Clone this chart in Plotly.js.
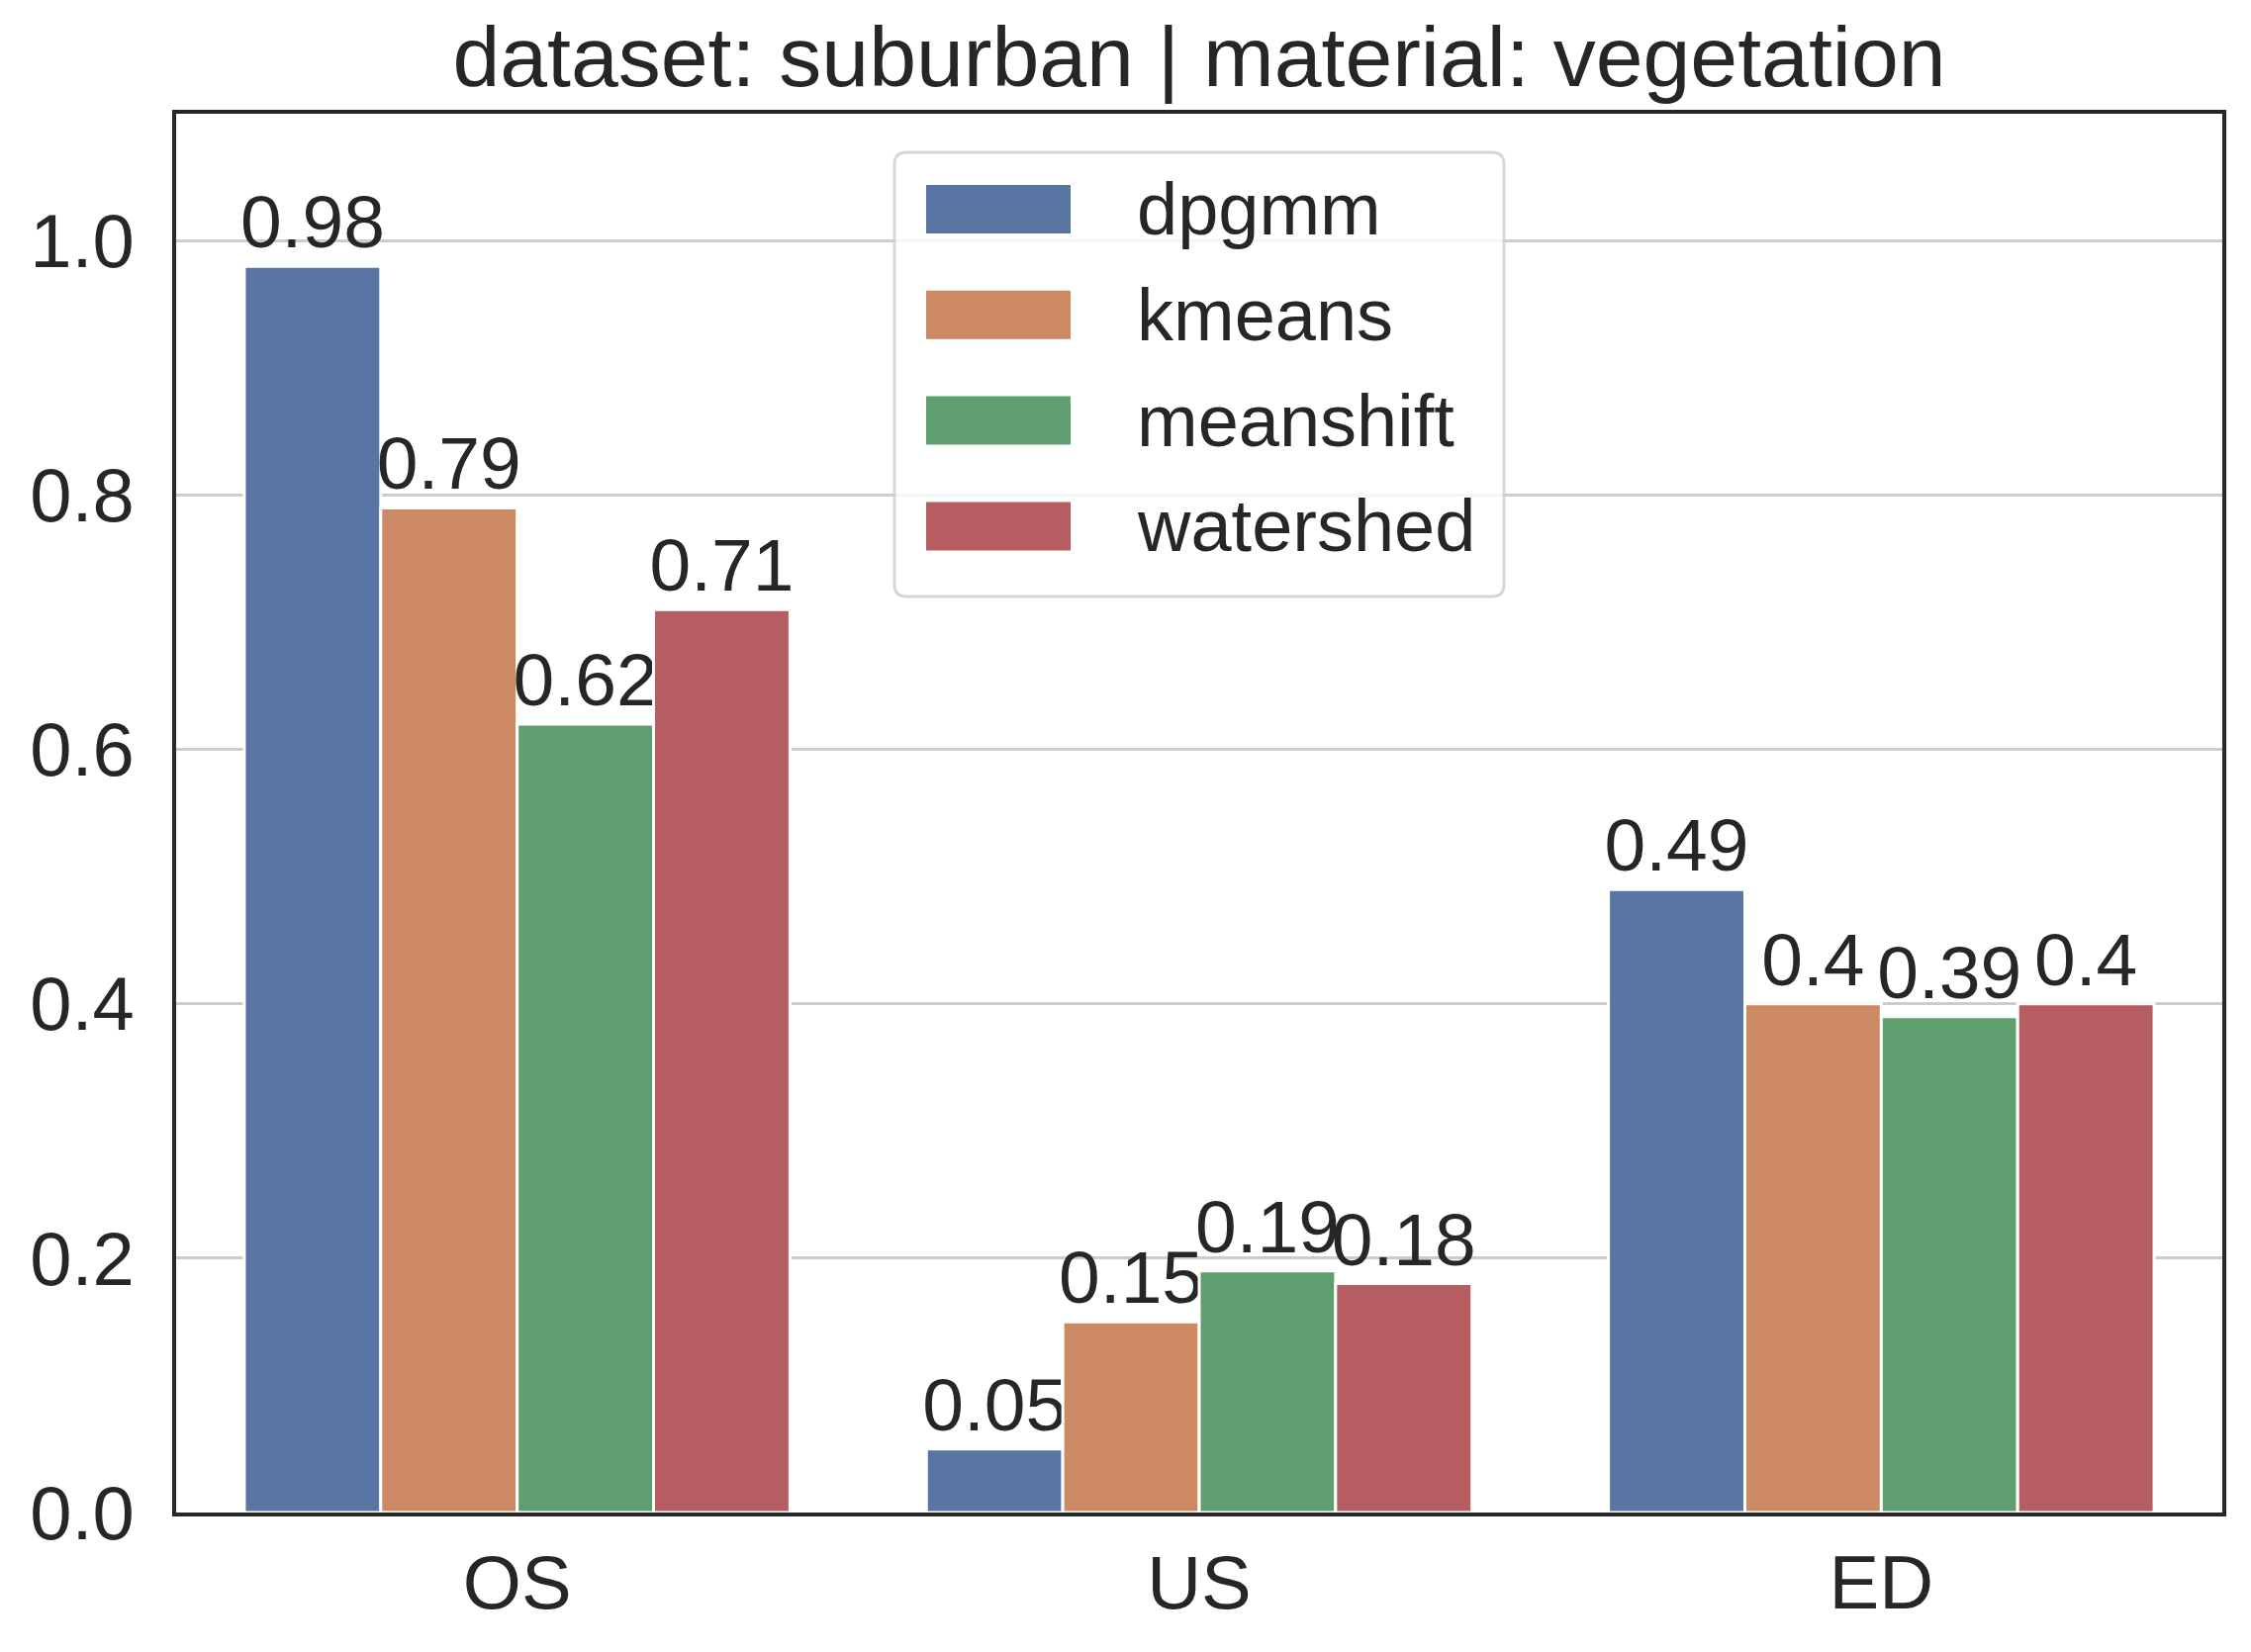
<!DOCTYPE html>
<html>
<head>
<meta charset="utf-8">
<script src="https://cdn.plot.ly/plotly-3.0.1.min.js"></script>
<style>
    html, body { margin: 0; padding: 0; background: #ffffff; }
    #chart { width: 2275px; height: 1670px; }
</style>
</head>
<body>
<div id="chart"></div>
<script>
"use strict";

// data
var categories = ['OS', 'US', 'ED'];
var methods = ['dpgmm', 'kmeans', 'meanshift', 'watershed'];
var dpgmm = [0.98, 0.05, 0.49];
var kmeans = [0.79, 0.15, 0.40];
var meanshift = [0.62, 0.19, 0.39];
var watershed = [0.71, 0.18, 0.40];
var yTicks = [0, 0.2, 0.4, 0.6, 0.8, 1.0];

var series = [dpgmm, kmeans, meanshift, watershed];
var colors = ['#5975a4', '#cc8963', '#5f9e6e', '#b55d60'];

var W = 2275, H = 1670;
var M = { l: 178, r: 29, t: 115, b: 141 };
var FONT = 'Liberation Sans, Arial, sans-serif';
var INK = '#262626';

// pixel -> paper helpers (legend layout only)
function px(x) { return (x - M.l) / (W - M.l - M.r); }
function py(y) { return (H - M.b - y) / (H - M.t - M.b); }

var traces = methods.map(function (name, i) {
    return {
        type: 'bar',
        name: name,
        x: categories,
        y: series[i],
        text: series[i].map(function (v) { return String(v); }),
        textposition: 'outside',
        constraintext: 'none',
        cliponaxis: false,
        textfont: { family: FONT, size: 75, color: INK },
        marker: { color: colors[i], line: { color: '#ffffff', width: 3 } },
        hoverinfo: 'skip',
        showlegend: false
    };
});

// legend drawn by hand so the patches are wide like matplotlib's
function roundedBox(x0, y0, x1, y1, r) {
    var p = [
        ['M', x0 + r, y0], ['L', x1 - r, y0], ['Q', x1, y0, x1, y0 + r],
        ['L', x1, y1 - r], ['Q', x1, y1, x1 - r, y1], ['L', x0 + r, y1],
        ['Q', x0, y1, x0, y1 - r], ['L', x0, y0 + r], ['Q', x0, y0, x0 + r, y0]
    ];
    return p.map(function (seg) {
        var out = seg[0];
        for (var k = 1; k < seg.length; k += 2) {
            out += (k > 1 ? ' ' : '') + px(seg[k]) + ',' + py(seg[k + 1]);
        }
        return out;
    }).join(' ') + ' Z';
}

var shapes = [{
    type: 'path', xref: 'paper', yref: 'paper', layer: 'above',
    path: roundedBox(904, 154, 1520, 603, 12),
    fillcolor: 'rgba(255,255,255,0.8)',
    line: { color: 'rgba(204,204,204,0.8)', width: 3 }
}];
var annotations = [];

methods.forEach(function (name, i) {
    var cy = 211.5 + i * 106.8;
    shapes.push({
        type: 'rect', xref: 'paper', yref: 'paper', layer: 'above',
        x0: px(936), x1: px(1082), y0: py(cy + 24.5), y1: py(cy - 24.5),
        fillcolor: colors[i], line: { width: 0 }
    });
    annotations.push({
        xref: 'paper', yref: 'paper', x: px(1147), y: py(cy),
        xanchor: 'left', yanchor: 'middle', showarrow: false,
        text: name, font: { family: FONT, size: 74, color: INK }
    });
});

var layout = {
    width: W,
    height: H,
    margin: M,
    paper_bgcolor: '#ffffff',
    plot_bgcolor: '#ffffff',
    font: { family: FONT, color: INK, size: 76 },
    title: {
        text: 'dataset: suburban | material: vegetation',
        font: { family: FONT, size: 86, color: INK },
        x: (M.l + (W - M.l - M.r) / 2) / W,
        xanchor: 'center',
        yref: 'container',
        y: 1 - 87 / H,
        yanchor: 'bottom'
    },
    barmode: 'group',
    bargap: 0.2,
    bargroupgap: 0,
    xaxis: {
        type: 'category',
        range: [-0.5, 2.5],
        showgrid: false,
        zeroline: false,
        showline: true,
        mirror: true,
        linecolor: INK,
        linewidth: 4,
        ticks: '',
        ticklabelstandoff: 2,
        tickfont: { family: FONT, size: 76, color: INK },
        fixedrange: true
    },
    yaxis: {
        range: [0, 1.1],
        tickvals: yTicks,
        tickformat: '.1f',
        showgrid: true,
        gridcolor: '#cccccc',
        gridwidth: 3,
        zeroline: false,
        showline: true,
        mirror: true,
        linecolor: INK,
        linewidth: 4,
        ticks: '',
        ticklabelstandoff: 23,
        tickfont: { family: FONT, size: 76, color: INK },
        fixedrange: true
    },
    shapes: shapes,
    annotations: annotations,
    showlegend: false
};

Plotly.newPlot('chart', traces, layout, { displayModeBar: false, staticPlot: true });
</script>
</body>
</html>
